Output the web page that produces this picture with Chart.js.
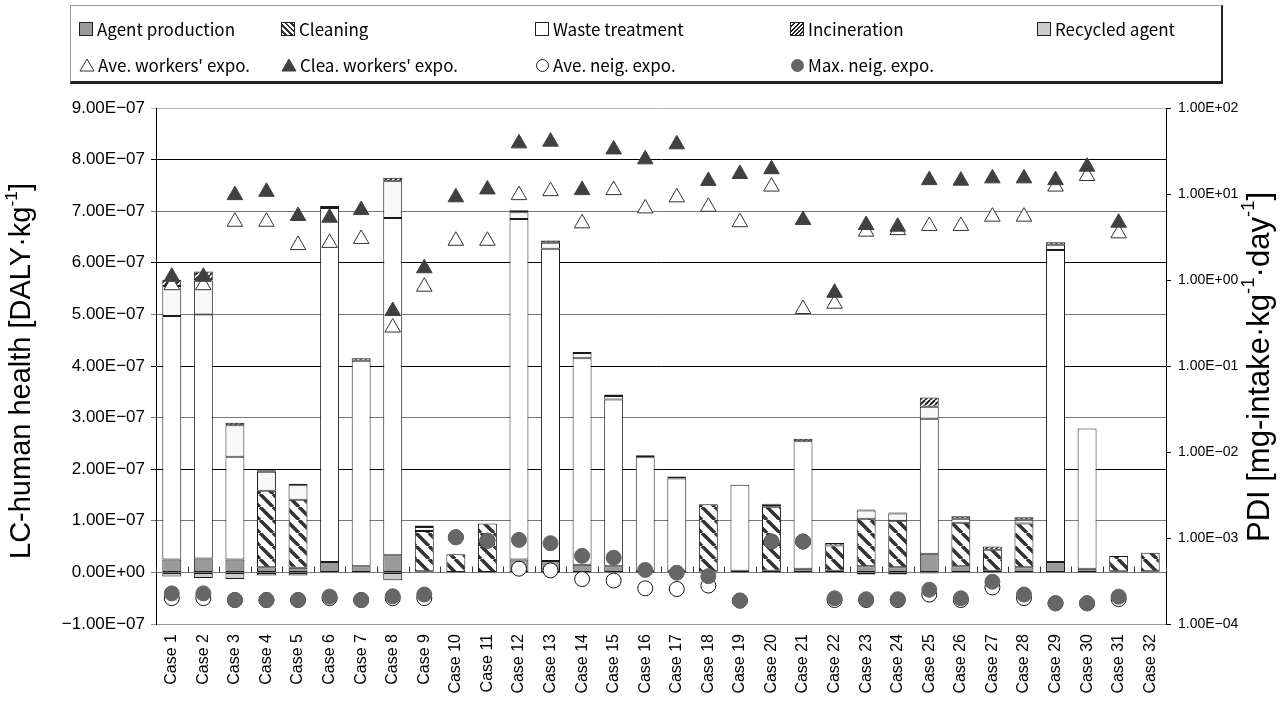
<!DOCTYPE html>
<html>
<head>
<meta charset="utf-8">
<script src="https://cdn.jsdelivr.net/npm/chart.js@4.4.0/dist/chart.umd.min.js"></script>
<style>
body{margin:0;background:#fff;}
#wrap{position:relative;width:1287px;height:717px;}
#legend{position:absolute;left:70px;top:5px;width:1153px;height:79px;box-sizing:border-box;
  border:1px solid #999;border-right:2px solid #222;border-bottom:3px solid #222;
  font-family:"Noto Sans CJK JP",sans-serif;font-size:17px;color:#000;}
.item{position:absolute;height:24px;line-height:24px;display:flex;align-items:center;white-space:nowrap;}
.sw{width:12px;height:12px;border:1px solid #222;margin-right:4px;box-sizing:content-box;}
.sym{margin-right:3px;}
</style>
</head>
<body>
<div id="wrap">
  <canvas id="lchh" width="1287" height="717"></canvas>
  <div id="legend">
    <div class="item" style="left:8px;top:11px"><span class="sw" style="background:#9a9a9a"></span>Agent production</div>
    <div class="item" style="left:210px;top:11px"><span class="sw" style="background:repeating-linear-gradient(45deg,#fff 0 2px,#333 2px 4px)"></span>Cleaning</div>
    <div class="item" style="left:464px;top:11px"><span class="sw" style="background:#fff"></span>Waste treatment</div>
    <div class="item" style="left:719px;top:11px"><span class="sw" style="background:repeating-linear-gradient(-45deg,#fff 0 1.5px,#222 1.5px 3px)"></span>Incineration</div>
    <div class="item" style="left:966px;top:11px"><span class="sw" style="background:#cccccc"></span>Recycled agent</div>
    <div class="item" style="left:8px;top:47px"><svg class="sym" width="16" height="14"><polygon points="8,1 15,13 1,13" fill="#fff" stroke="#333"/></svg>Ave. workers' expo.</div>
    <div class="item" style="left:210px;top:47px"><svg class="sym" width="16" height="14"><polygon points="8,1 15,13 1,13" fill="#404040" stroke="#404040"/></svg>Clea. workers' expo.</div>
    <div class="item" style="left:464px;top:47px"><svg class="sym" width="15" height="15"><circle cx="7.5" cy="7.5" r="6" fill="#fff" stroke="#222"/></svg>Ave. neig. expo.</div>
    <div class="item" style="left:719px;top:47px"><svg class="sym" width="15" height="15"><circle cx="7.5" cy="7.5" r="6.5" fill="#666"/></svg>Max. neig. expo.</div>
  </div>
</div>
<script>
const cases = ['Case 1','Case 2','Case 3','Case 4','Case 5','Case 6','Case 7','Case 8','Case 9','Case 10',
  'Case 11','Case 12','Case 13','Case 14','Case 15','Case 16','Case 17','Case 18','Case 19','Case 20',
  'Case 21','Case 22','Case 23','Case 24','Case 25','Case 26','Case 27','Case 28','Case 29','Case 30','Case 31','Case 32'];

// LC-human health [DALY/kg], stacked
const agentProduction = [0.25e-7,0.27e-7,0.25e-7,0.10e-7,0.09e-7,0.20e-7,0.12e-7,0.33e-7,0.02e-7,0,
  0,0.25e-7,0.22e-7,0.15e-7,0.12e-7,0.03e-7,0.03e-7,0.02e-7,0.03e-7,0.03e-7,
  0.07e-7,0.03e-7,0.12e-7,0.10e-7,0.36e-7,0.12e-7,0.03e-7,0.10e-7,0.20e-7,0.07e-7,0.02e-7,0.02e-7];
const cleaning = [0,0,0,1.48e-7,1.32e-7,0,0,0,0.78e-7,0.35e-7,
  0.95e-7,0,0,0,0,0,0,1.30e-7,0,1.24e-7,
  0,0.49e-7,0.92e-7,0.90e-7,0,0.84e-7,0.41e-7,0.85e-7,0,0,0.30e-7,0.36e-7];
const wasteTreatment = [4.72e-7,4.73e-7,1.99e-7,0,0,6.86e-7,3.98e-7,6.54e-7,0,0,
  0,6.60e-7,6.05e-7,4.00e-7,3.23e-7,2.20e-7,1.79e-7,0,1.67e-7,0,
  2.47e-7,0,0,0,2.62e-7,0,0,0,6.05e-7,2.72e-7,0,0];
const wasteOther = [0.58e-7,0.66e-7,0.61e-7,0.37e-7,0.28e-7,0,0,0.71e-7,0.08e-7,0,
  0,0.13e-7,0.12e-7,0.10e-7,0.07e-7,0,0,0,0,0.04e-7,
  0,0,0.16e-7,0.14e-7,0.23e-7,0.08e-7,0,0.07e-7,0.10e-7,0,0,0];
const incineration = [0.12e-7,0.17e-7,0.05e-7,0.03e-7,0.03e-7,0.04e-7,0.05e-7,0.07e-7,0.03e-7,0,
  0,0.04e-7,0.04e-7,0.02e-7,0.03e-7,0.04e-7,0.04e-7,0,0,0.02e-7,
  0.05e-7,0.05e-7,0.02e-7,0.02e-7,0.18e-7,0.05e-7,0.06e-7,0.05e-7,0.05e-7,0,0,0];
const recycledAgent = [-0.08e-7,-0.11e-7,-0.13e-7,-0.06e-7,-0.06e-7,0,0,-0.15e-7,0,0,
  0,0,0,0,0,0,0,0,0,0,
  0,0,-0.04e-7,-0.04e-7,-0.02e-7,0,0,0,0,0,0,0];

// PDI [mg-intake/kg/day], log axis
const aveWorkersExpo = [0.87,0.87,4.76,4.76,2.55,2.7,3.0,0.28,0.835,2.86,
  2.86,9.7,10.8,4.56,11.1,6.8,9.15,7.1,4.7,12.2,
  0.46,0.53,3.65,3.8,4.25,4.25,5.45,5.45,12.2,16.2,3.49,null];
const cleaWorkersExpo = [1.09,1.09,9.7,10.6,5.55,5.3,6.5,0.436,1.37,9.15,
  11.3,38.8,40.6,11.1,33,25.3,37.8,14.2,17.1,19.4,
  4.99,0.71,4.36,4.17,14.5,14.3,15.2,15.2,14.5,20.8,4.64,null];
const aveNeigExpo = [2.0e-4,2.0e-4,1.9e-4,1.9e-4,1.9e-4,2.0e-4,1.9e-4,2.0e-4,2.0e-4,1.02e-3,
  9.3e-4,4.4e-4,4.2e-4,3.33e-4,3.2e-4,2.6e-4,2.55e-4,2.8e-4,1.87e-4,9.1e-4,
  9.1e-4,1.9e-4,1.9e-4,1.9e-4,2.2e-4,1.9e-4,2.66e-4,2.0e-4,1.74e-4,1.74e-4,1.95e-4,null];
const maxNeigExpo = [2.27e-4,2.27e-4,1.9e-4,1.9e-4,1.9e-4,2.08e-4,1.9e-4,2.1e-4,2.2e-4,1.02e-3,
  9.3e-4,9.5e-4,8.7e-4,6.2e-4,5.9e-4,4.25e-4,3.95e-4,3.6e-4,1.87e-4,9.1e-4,
  9.1e-4,1.99e-4,1.94e-4,1.94e-4,2.5e-4,1.99e-4,3.1e-4,2.2e-4,1.74e-4,1.74e-4,2.08e-4,null];

const leftTicks = [-1e-7,0,1e-7,2e-7,3e-7,4e-7,5e-7,6e-7,7e-7,8e-7,9e-7];
const rightTicks = [1e-4,1e-3,1e-2,1e-1,1e0,1e1,1e2];

function sci(v) {
  if (Math.abs(v) < 1e-15) return '0.00E+00';
  const e = Math.floor(Math.log10(Math.abs(v)) + 1e-9);
  const m = v / Math.pow(10, e);
  const ms = (m < 0 ? '−' : '') + Math.abs(m).toFixed(2);
  return ms + 'E' + (e < 0 ? '−' : '+') + String(Math.abs(e)).padStart(2, '0');
}

function hatch(size, width, color, back) {
  const c = document.createElement('canvas');
  c.width = size; c.height = size;
  const g = c.getContext('2d');
  g.fillStyle = '#fff'; g.fillRect(0, 0, size, size);
  g.strokeStyle = color; g.lineWidth = width;
  g.beginPath();
  for (let k = -1; k <= 1; k++) {
    if (back) { g.moveTo(k * size, 0); g.lineTo(k * size + size, size); }
    else { g.moveTo(k * size, size); g.lineTo(k * size + size, 0); }
  }
  g.stroke();
  return g.createPattern(c, 'repeat');
}
const ctx = document.getElementById('lchh').getContext('2d');
const cleanPattern = hatch(13, 3.6, '#333', true);
const incinPattern = hatch(5, 2, '#222', false);

function drawVertical(c, parts, cx, cy, size) {
  c.save();
  c.translate(cx, cy);
  c.rotate(-Math.PI / 2);
  c.textBaseline = 'middle';
  c.fillStyle = '#000';
  let total = 0;
  parts.forEach(p => {
    c.font = (p.sup ? size * 0.6 : size) + 'px "Liberation Sans", Arial, sans-serif';
    p.w = c.measureText(p.t).width; total += p.w;
  });
  let xx = -total / 2;
  parts.forEach(p => {
    c.font = (p.sup ? size * 0.6 : size) + 'px "Liberation Sans", Arial, sans-serif';
    c.fillText(p.t, xx, p.sup ? -size * 0.35 : 0);
    xx += p.w;
  });
  c.restore();
}

const decor = {
  id: 'decor',
  afterDatasetsDraw(chart) {
    const c = chart.ctx, x = chart.scales.x, y = chart.scales.y;
    const y0 = Math.round(y.getPixelForValue(0)) + 0.5;
    c.save();
    c.strokeStyle = '#333'; c.lineWidth = 1;
    c.beginPath();
    for (let i = 0; i <= cases.length; i++) {
      const px = Math.round(x.getPixelForValue(i - 0.5)) + 0.5;
      c.moveTo(px, y0 - 6); c.lineTo(px, y0);
    }
    c.stroke();
    c.restore();
  },
  afterDraw(chart) {
    drawVertical(chart.ctx, [{t: 'LC-human health [DALY·kg'}, {t: '-1', sup: true}, {t: ']'}], 22, 371, 29);
    drawVertical(chart.ctx, [{t: 'PDI [mg-intake·kg'}, {t: '-1', sup: true}, {t: '·day'}, {t: '-1', sup: true}, {t: ']'}], 1260, 367, 31);
  }
};

function gridColor(c) {
  const n = Math.round(c.tick.value / 1e-7);
  if (n === 9) return '#bbbbbb';
  if (n === -1) return '#999999';
  return n % 2 === 0 && n !== 0 ? '#000000' : '#777777';
}

const barBase = {type: 'bar', yAxisID: 'y', borderColor: '#1a1a1a', borderWidth: 1, borderSkipped: false, order: 10};

new Chart(ctx, {
  data: {
    labels: cases,
    datasets: [
      {type: 'line', label: 'Max. neig. expo.', data: maxNeigExpo, yAxisID: 'y2', showLine: false,
        pointStyle: 'circle', pointRadius: 7.5, pointBackgroundColor: '#666', pointBorderColor: '#666', order: 0},
      {type: 'line', label: 'Ave. neig. expo.', data: aveNeigExpo, yAxisID: 'y2', showLine: false,
        pointStyle: 'circle', pointRadius: 7.5, pointBackgroundColor: '#fff', pointBorderColor: '#111', pointBorderWidth: 1, order: 1},
      {type: 'line', label: "Clea. workers' expo.", data: cleaWorkersExpo, yAxisID: 'y2', showLine: false,
        pointStyle: 'triangle', pointRadius: 9, pointBackgroundColor: '#404040', pointBorderColor: '#404040', order: 0},
      {type: 'line', label: "Ave. workers' expo.", data: aveWorkersExpo, yAxisID: 'y2', showLine: false,
        pointStyle: 'triangle', pointRadius: 9, pointBackgroundColor: '#fff', pointBorderColor: '#333', pointBorderWidth: 1, order: 1},
      {...barBase, label: 'Agent production', data: agentProduction, backgroundColor: '#9a9a9a'},
      {...barBase, label: 'Cleaning', data: cleaning, backgroundColor: cleanPattern},
      {...barBase, label: 'Waste treatment', data: wasteTreatment, backgroundColor: '#ffffff'},
      {...barBase, label: 'Waste treatment (other)', data: wasteOther, backgroundColor: '#f8f8f8'},
      {...barBase, label: 'Incineration', data: incineration, backgroundColor: incinPattern},
      {...barBase, label: 'Recycled agent', data: recycledAgent, backgroundColor: '#cccccc'}
    ]
  },
  options: {
    responsive: false,
    animation: false,
    events: [],
    layout: {padding: {top: 108, left: 0, right: 0, bottom: 0}},
    datasets: {bar: {categoryPercentage: 1, barPercentage: 0.6}},
    plugins: {legend: {display: false}, tooltip: {enabled: false}},
    scales: {
      x: {
        stacked: true,
        grid: {drawOnChartArea: false, drawTicks: false},
        border: {color: '#999'},
        ticks: {autoSkip: false, maxRotation: 90, minRotation: 90, padding: 10, color: '#000',
          font: {family: '"Liberation Sans", Arial', size: 16}},
        afterFit: s => { s.height = 93; }
      },
      y: {
        type: 'linear', position: 'left', stacked: true, min: -1e-7, max: 9e-7,
        afterBuildTicks: s => { s.ticks = leftTicks.map(v => ({value: v})); },
        afterFit: s => { s.width = 156; },
        ticks: {callback: v => sci(v), color: '#000', padding: 6,
          font: {family: '"Liberation Sans", Arial', size: 17}},
        grid: {color: gridColor, tickLength: 5},
        border: {color: '#000'}
      },
      y2: {
        type: 'logarithmic', position: 'right', min: 1e-4, max: 1e2,
        afterBuildTicks: s => { s.ticks = rightTicks.map(v => ({value: v})); },
        afterFit: s => { s.width = 121; },
        ticks: {callback: v => sci(v), color: '#000', padding: 7,
          font: {family: '"Liberation Sans", Arial', size: 14}},
        grid: {drawOnChartArea: false, tickLength: 5, color: '#000'},
        border: {color: '#000'}
      }
    }
  },
  plugins: [decor]
});
</script>
</body>
</html>
